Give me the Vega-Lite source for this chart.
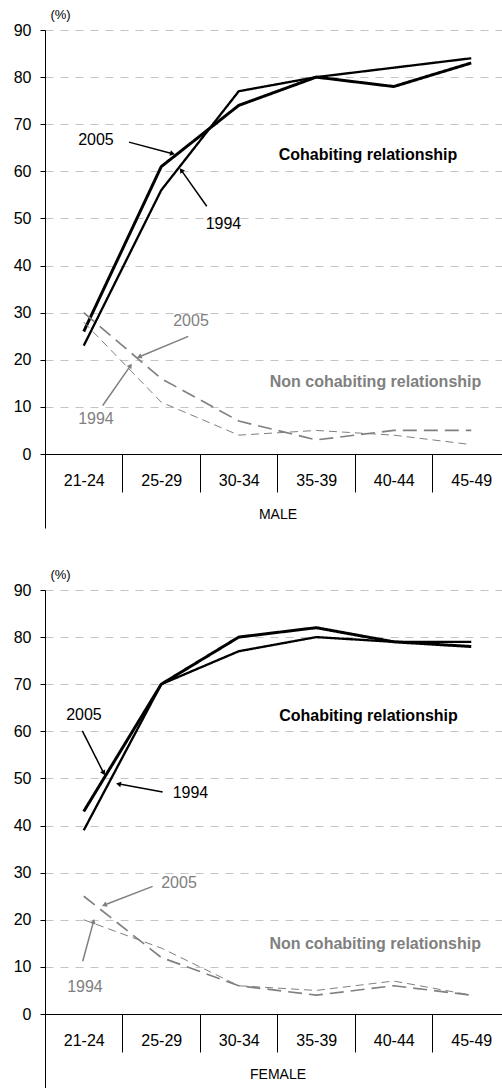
{
  "$schema": "https://vega.github.io/schema/vega-lite/v6.json",
  "padding": {"left": 13, "top": 8, "right": 0, "bottom": 0},
  "background": "white",
  "bounds": "flush",
  "spacing": 136,
  "config": {
    "font": "Liberation Sans",
    "view": {"stroke": null},
    "axis": {"labelColor": "black", "titleColor": "black", "labelFont": "Liberation Sans", "titleFont": "Liberation Sans"}
  },
  "datasets": {
    "lines": [
      {"sex": "Male", "age": "21-24", "series": "Cohabiting 2005", "value": 26},
      {"sex": "Male", "age": "25-29", "series": "Cohabiting 2005", "value": 61},
      {"sex": "Male", "age": "30-34", "series": "Cohabiting 2005", "value": 74},
      {"sex": "Male", "age": "35-39", "series": "Cohabiting 2005", "value": 80},
      {"sex": "Male", "age": "40-44", "series": "Cohabiting 2005", "value": 78},
      {"sex": "Male", "age": "45-49", "series": "Cohabiting 2005", "value": 83},
      {"sex": "Male", "age": "21-24", "series": "Cohabiting 1994", "value": 23},
      {"sex": "Male", "age": "25-29", "series": "Cohabiting 1994", "value": 56},
      {"sex": "Male", "age": "30-34", "series": "Cohabiting 1994", "value": 77},
      {"sex": "Male", "age": "35-39", "series": "Cohabiting 1994", "value": 80},
      {"sex": "Male", "age": "40-44", "series": "Cohabiting 1994", "value": 82},
      {"sex": "Male", "age": "45-49", "series": "Cohabiting 1994", "value": 84},
      {"sex": "Male", "age": "21-24", "series": "Non cohabiting 2005", "value": 30},
      {"sex": "Male", "age": "25-29", "series": "Non cohabiting 2005", "value": 16},
      {"sex": "Male", "age": "30-34", "series": "Non cohabiting 2005", "value": 7},
      {"sex": "Male", "age": "35-39", "series": "Non cohabiting 2005", "value": 3},
      {"sex": "Male", "age": "40-44", "series": "Non cohabiting 2005", "value": 5},
      {"sex": "Male", "age": "45-49", "series": "Non cohabiting 2005", "value": 5},
      {"sex": "Male", "age": "21-24", "series": "Non cohabiting 1994", "value": 28},
      {"sex": "Male", "age": "25-29", "series": "Non cohabiting 1994", "value": 11},
      {"sex": "Male", "age": "30-34", "series": "Non cohabiting 1994", "value": 4},
      {"sex": "Male", "age": "35-39", "series": "Non cohabiting 1994", "value": 5},
      {"sex": "Male", "age": "40-44", "series": "Non cohabiting 1994", "value": 4},
      {"sex": "Male", "age": "45-49", "series": "Non cohabiting 1994", "value": 2},
      {"sex": "Female", "age": "21-24", "series": "Cohabiting 2005", "value": 43},
      {"sex": "Female", "age": "25-29", "series": "Cohabiting 2005", "value": 70},
      {"sex": "Female", "age": "30-34", "series": "Cohabiting 2005", "value": 80},
      {"sex": "Female", "age": "35-39", "series": "Cohabiting 2005", "value": 82},
      {"sex": "Female", "age": "40-44", "series": "Cohabiting 2005", "value": 79},
      {"sex": "Female", "age": "45-49", "series": "Cohabiting 2005", "value": 78},
      {"sex": "Female", "age": "21-24", "series": "Cohabiting 1994", "value": 39},
      {"sex": "Female", "age": "25-29", "series": "Cohabiting 1994", "value": 70},
      {"sex": "Female", "age": "30-34", "series": "Cohabiting 1994", "value": 77},
      {"sex": "Female", "age": "35-39", "series": "Cohabiting 1994", "value": 80},
      {"sex": "Female", "age": "40-44", "series": "Cohabiting 1994", "value": 79},
      {"sex": "Female", "age": "45-49", "series": "Cohabiting 1994", "value": 79},
      {"sex": "Female", "age": "21-24", "series": "Non cohabiting 2005", "value": 25},
      {"sex": "Female", "age": "25-29", "series": "Non cohabiting 2005", "value": 12},
      {"sex": "Female", "age": "30-34", "series": "Non cohabiting 2005", "value": 6},
      {"sex": "Female", "age": "35-39", "series": "Non cohabiting 2005", "value": 4},
      {"sex": "Female", "age": "40-44", "series": "Non cohabiting 2005", "value": 6},
      {"sex": "Female", "age": "45-49", "series": "Non cohabiting 2005", "value": 4},
      {"sex": "Female", "age": "21-24", "series": "Non cohabiting 1994", "value": 20},
      {"sex": "Female", "age": "25-29", "series": "Non cohabiting 1994", "value": 14},
      {"sex": "Female", "age": "30-34", "series": "Non cohabiting 1994", "value": 6},
      {"sex": "Female", "age": "35-39", "series": "Non cohabiting 1994", "value": 5},
      {"sex": "Female", "age": "40-44", "series": "Non cohabiting 1994", "value": 7},
      {"sex": "Female", "age": "45-49", "series": "Non cohabiting 1994", "value": 4}
    ],
    "notes": [
      {"sex": "Male", "kind": "year", "group": "Cohabiting", "label": "2005", "x": 0.658, "y": 66.7},
      {"sex": "Male", "kind": "year", "group": "Cohabiting", "label": "1994", "x": 2.304, "y": 48.9},
      {"sex": "Male", "kind": "relationship", "group": "Cohabiting", "label": "Cohabiting relationship", "x": 4.17, "y": 63.5},
      {"sex": "Male", "kind": "year", "group": "Non cohabiting", "label": "2005", "x": 1.885, "y": 28.3},
      {"sex": "Male", "kind": "year", "group": "Non cohabiting", "label": "1994", "x": 0.658, "y": 7.45},
      {"sex": "Male", "kind": "relationship", "group": "Non cohabiting", "label": "Non cohabiting relationship", "x": 4.267, "y": 15.2},
      {"sex": "Female", "kind": "year", "group": "Cohabiting", "label": "2005", "x": 0.503, "y": 63.5},
      {"sex": "Female", "kind": "year", "group": "Cohabiting", "label": "1994", "x": 1.878, "y": 46.9},
      {"sex": "Female", "kind": "relationship", "group": "Cohabiting", "label": "Cohabiting relationship", "x": 4.176, "y": 63.3},
      {"sex": "Female", "kind": "year", "group": "Non cohabiting", "label": "2005", "x": 1.73, "y": 27.8},
      {"sex": "Female", "kind": "year", "group": "Non cohabiting", "label": "1994", "x": 0.516, "y": 5.8},
      {"sex": "Female", "kind": "relationship", "group": "Non cohabiting", "label": "Non cohabiting relationship", "x": 4.263, "y": 14.9}
    ],
    "arrows": [
      {"sex": "Male", "group": "Cohabiting", "x": 1.084, "y": 66.2, "x2": 1.636, "y2": 63.8, "angle": 104.8},
      {"sex": "Male", "group": "Cohabiting", "x": 2.088, "y": 52.6, "x2": 1.765, "y2": 60.1, "angle": -35.5},
      {"sex": "Male", "group": "Non cohabiting", "x": 1.85, "y": 24.96, "x2": 1.226, "y2": 20.7, "angle": -112.5},
      {"sex": "Male", "group": "Non cohabiting", "x": 0.745, "y": 10.3, "x2": 1.097, "y2": 18.6, "angle": 35},
      {"sex": "Female", "group": "Cohabiting", "x": 0.482, "y": 60.1, "x2": 0.753, "y2": 51.3, "angle": 153.2},
      {"sex": "Female", "group": "Cohabiting", "x": 1.519, "y": 47.1, "x2": 0.959, "y2": 48.8, "angle": -79.2},
      {"sex": "Female", "group": "Non cohabiting", "x": 1.39, "y": 27.1, "x2": 0.775, "y2": 23.2, "angle": -111.4},
      {"sex": "Female", "group": "Non cohabiting", "x": 0.487, "y": 11.2, "x2": 0.624, "y2": 19.5, "angle": 15.1}
    ]
  },
  "vconcat": [
    {
      "width": 457,
      "height": 424,
      "resolve": {"scale": {"x": "independent", "color": "independent"}, "axis": {"x": "independent"}},
      "layer": [
        {
          "data": {"name": "lines"},
          "transform": [{"filter": "datum.sex === 'Male'"}],
          "mark": {"type": "line", "strokeCap": "butt", "strokeJoin": "miter"},
          "encoding": {
            "x": {"field": "age", "type": "ordinal", "sort": null,
              "scale": {"type": "point", "padding": 0.5, "range": [0, 465]},
              "axis": {"orient": "bottom", "title": "MALE", "ticks": false, "tickSize": 0, "domain": false, "grid": false, "labelPadding": 18, "labelFontSize": 16, "labelAngle": 0, "titlePadding": 19, "titleFontSize": 14, "titleFontWeight": "normal"}},
            "y": {"field": "value", "type": "quantitative", "scale": {"domain": [0, 90], "nice": false},
              "axis": {"title": "(%)", "titleAngle": 0, "titleAlign": "center", "titleBaseline": "middle", "titleX": 15, "titleY": -16, "titleFontSize": 13, "titleFontWeight": "normal",
                "values": [0, 10, 20, 30, 40, 50, 60, 70, 80, 90], "tickSize": 5, "tickColor": "black", "domainColor": "black", "labelPadding": 9, "labelFontSize": 16,
                "grid": true,
                "gridColor": {"condition": {"test": "datum.value === 0", "value": "black"}, "value": "#c4c4c4"},
                "gridDash": {"condition": {"test": "datum.value === 0", "value": []}, "value": [8, 7]}}},
            "detail": {"field": "series"},
            "color": {"field": "series", "type": "nominal", "legend": null,
              "scale": {"domain": ["Non cohabiting 1994", "Non cohabiting 2005", "Cohabiting 1994", "Cohabiting 2005"], "range": ["#808080", "#808080", "black", "black"]}},
            "strokeWidth": {"field": "series", "type": "nominal", "legend": null,
              "scale": {"domain": ["Non cohabiting 1994", "Non cohabiting 2005", "Cohabiting 1994", "Cohabiting 2005"], "range": [1, 3, 1, 3]}},
            "strokeDash": {"field": "series", "type": "nominal", "legend": null,
              "scale": {"domain": ["Non cohabiting 1994", "Non cohabiting 2005", "Cohabiting 1994", "Cohabiting 2005"], "range": [[8, 5], [14, 7], [1, 0], [1, 0]]}}
          }
        },
        {
          "data": {"name": "arrows"},
          "transform": [{"filter": "datum.sex === 'Male'"}],
          "mark": {"type": "rule", "strokeWidth": 1.5},
          "encoding": {
            "x": {"field": "x", "type": "quantitative", "scale": {"domain": [0, 5.9], "nice": false, "zero": false},
              "axis": {"orient": "bottom", "values": [0], "labels": false, "domain": false, "grid": false, "ticks": true, "tickSize": 74, "tickColor": "black", "title": null}},
            "x2": {"field": "x2"},
            "y": {"field": "y", "type": "quantitative", "scale": {"domain": [0, 90], "nice": false}},
            "y2": {"field": "y2"},
            "color": {"field": "group", "type": "nominal", "legend": null, "scale": {"domain": ["Cohabiting", "Non cohabiting"], "range": ["black", "#808080"]}}
          }
        },
        {
          "data": {"name": "arrows"},
          "transform": [{"filter": "datum.sex === 'Male'"}],
          "mark": {"type": "point", "shape": "triangle", "filled": true, "size": 32, "opacity": 1},
          "encoding": {
            "x": {"field": "x2", "type": "quantitative", "scale": {"domain": [0, 5.9], "nice": false, "zero": false}, "axis": null},
            "y": {"field": "y2", "type": "quantitative", "scale": {"domain": [0, 90], "nice": false}},
            "angle": {"field": "angle", "type": "quantitative", "scale": null},
            "color": {"field": "group", "type": "nominal", "legend": null, "scale": {"domain": ["Cohabiting", "Non cohabiting"], "range": ["black", "#808080"]}}
          }
        },
        {
          "data": {"name": "notes"},
          "transform": [{"filter": "datum.sex === 'Male' && datum.kind === 'year'"}],
          "mark": {"type": "text", "fontSize": 16, "align": "center", "baseline": "middle"},
          "encoding": {
            "x": {"field": "x", "type": "quantitative", "scale": {"domain": [0, 5.9], "nice": false, "zero": false},
              "axis": {"orient": "bottom", "values": [1, 2, 3, 4, 5], "labels": false, "domain": false, "grid": false, "ticks": true, "tickSize": 38, "tickColor": "black", "title": null}},
            "y": {"field": "y", "type": "quantitative", "scale": {"domain": [0, 90], "nice": false}},
            "text": {"field": "label"},
            "color": {"field": "group", "type": "nominal", "legend": null, "scale": {"domain": ["Cohabiting", "Non cohabiting"], "range": ["black", "#808080"]}}
          }
        },
        {
          "data": {"name": "notes"},
          "transform": [{"filter": "datum.sex === 'Male' && datum.kind === 'relationship'"}],
          "mark": {"type": "text", "fontSize": 16, "fontWeight": "bold", "align": "center", "baseline": "middle"},
          "encoding": {
            "x": {"field": "x", "type": "quantitative", "scale": {"domain": [0, 5.9], "nice": false, "zero": false}, "axis": null},
            "y": {"field": "y", "type": "quantitative", "scale": {"domain": [0, 90], "nice": false}},
            "text": {"field": "label"},
            "color": {"field": "group", "type": "nominal", "legend": null, "scale": {"domain": ["Cohabiting", "Non cohabiting"], "range": ["black", "#808080"]}}
          }
        }
      ]
    },
    {
      "width": 457,
      "height": 424,
      "resolve": {"scale": {"x": "independent", "color": "independent"}, "axis": {"x": "independent"}},
      "layer": [
        {
          "data": {"name": "lines"},
          "transform": [{"filter": "datum.sex === 'Female'"}],
          "mark": {"type": "line", "strokeCap": "butt", "strokeJoin": "miter"},
          "encoding": {
            "x": {"field": "age", "type": "ordinal", "sort": null,
              "scale": {"type": "point", "padding": 0.5, "range": [0, 465]},
              "axis": {"orient": "bottom", "title": "FEMALE", "ticks": false, "tickSize": 0, "domain": false, "grid": false, "labelPadding": 18, "labelFontSize": 16, "labelAngle": 0, "titlePadding": 19, "titleFontSize": 14, "titleFontWeight": "normal"}},
            "y": {"field": "value", "type": "quantitative", "scale": {"domain": [0, 90], "nice": false},
              "axis": {"title": "(%)", "titleAngle": 0, "titleAlign": "center", "titleBaseline": "middle", "titleX": 15, "titleY": -16, "titleFontSize": 13, "titleFontWeight": "normal",
                "values": [0, 10, 20, 30, 40, 50, 60, 70, 80, 90], "tickSize": 5, "tickColor": "black", "domainColor": "black", "labelPadding": 9, "labelFontSize": 16,
                "grid": true,
                "gridColor": {"condition": {"test": "datum.value === 0", "value": "black"}, "value": "#c4c4c4"},
                "gridDash": {"condition": {"test": "datum.value === 0", "value": []}, "value": [8, 7]}}},
            "detail": {"field": "series"},
            "color": {"field": "series", "type": "nominal", "legend": null,
              "scale": {"domain": ["Non cohabiting 1994", "Non cohabiting 2005", "Cohabiting 1994", "Cohabiting 2005"], "range": ["#808080", "#808080", "black", "black"]}},
            "strokeWidth": {"field": "series", "type": "nominal", "legend": null,
              "scale": {"domain": ["Non cohabiting 1994", "Non cohabiting 2005", "Cohabiting 1994", "Cohabiting 2005"], "range": [1, 3, 1, 3]}},
            "strokeDash": {"field": "series", "type": "nominal", "legend": null,
              "scale": {"domain": ["Non cohabiting 1994", "Non cohabiting 2005", "Cohabiting 1994", "Cohabiting 2005"], "range": [[8, 5], [14, 7], [1, 0], [1, 0]]}}
          }
        },
        {
          "data": {"name": "arrows"},
          "transform": [{"filter": "datum.sex === 'Female'"}],
          "mark": {"type": "rule", "strokeWidth": 1.5},
          "encoding": {
            "x": {"field": "x", "type": "quantitative", "scale": {"domain": [0, 5.9], "nice": false, "zero": false},
              "axis": {"orient": "bottom", "values": [0], "labels": false, "domain": false, "grid": false, "ticks": true, "tickSize": 74, "tickColor": "black", "title": null}},
            "x2": {"field": "x2"},
            "y": {"field": "y", "type": "quantitative", "scale": {"domain": [0, 90], "nice": false}},
            "y2": {"field": "y2"},
            "color": {"field": "group", "type": "nominal", "legend": null, "scale": {"domain": ["Cohabiting", "Non cohabiting"], "range": ["black", "#808080"]}}
          }
        },
        {
          "data": {"name": "arrows"},
          "transform": [{"filter": "datum.sex === 'Female'"}],
          "mark": {"type": "point", "shape": "triangle", "filled": true, "size": 32, "opacity": 1},
          "encoding": {
            "x": {"field": "x2", "type": "quantitative", "scale": {"domain": [0, 5.9], "nice": false, "zero": false}, "axis": null},
            "y": {"field": "y2", "type": "quantitative", "scale": {"domain": [0, 90], "nice": false}},
            "angle": {"field": "angle", "type": "quantitative", "scale": null},
            "color": {"field": "group", "type": "nominal", "legend": null, "scale": {"domain": ["Cohabiting", "Non cohabiting"], "range": ["black", "#808080"]}}
          }
        },
        {
          "data": {"name": "notes"},
          "transform": [{"filter": "datum.sex === 'Female' && datum.kind === 'year'"}],
          "mark": {"type": "text", "fontSize": 16, "align": "center", "baseline": "middle"},
          "encoding": {
            "x": {"field": "x", "type": "quantitative", "scale": {"domain": [0, 5.9], "nice": false, "zero": false},
              "axis": {"orient": "bottom", "values": [1, 2, 3, 4, 5], "labels": false, "domain": false, "grid": false, "ticks": true, "tickSize": 38, "tickColor": "black", "title": null}},
            "y": {"field": "y", "type": "quantitative", "scale": {"domain": [0, 90], "nice": false}},
            "text": {"field": "label"},
            "color": {"field": "group", "type": "nominal", "legend": null, "scale": {"domain": ["Cohabiting", "Non cohabiting"], "range": ["black", "#808080"]}}
          }
        },
        {
          "data": {"name": "notes"},
          "transform": [{"filter": "datum.sex === 'Female' && datum.kind === 'relationship'"}],
          "mark": {"type": "text", "fontSize": 16, "fontWeight": "bold", "align": "center", "baseline": "middle"},
          "encoding": {
            "x": {"field": "x", "type": "quantitative", "scale": {"domain": [0, 5.9], "nice": false, "zero": false}, "axis": null},
            "y": {"field": "y", "type": "quantitative", "scale": {"domain": [0, 90], "nice": false}},
            "text": {"field": "label"},
            "color": {"field": "group", "type": "nominal", "legend": null, "scale": {"domain": ["Cohabiting", "Non cohabiting"], "range": ["black", "#808080"]}}
          }
        }
      ]
    }
  ]
}
